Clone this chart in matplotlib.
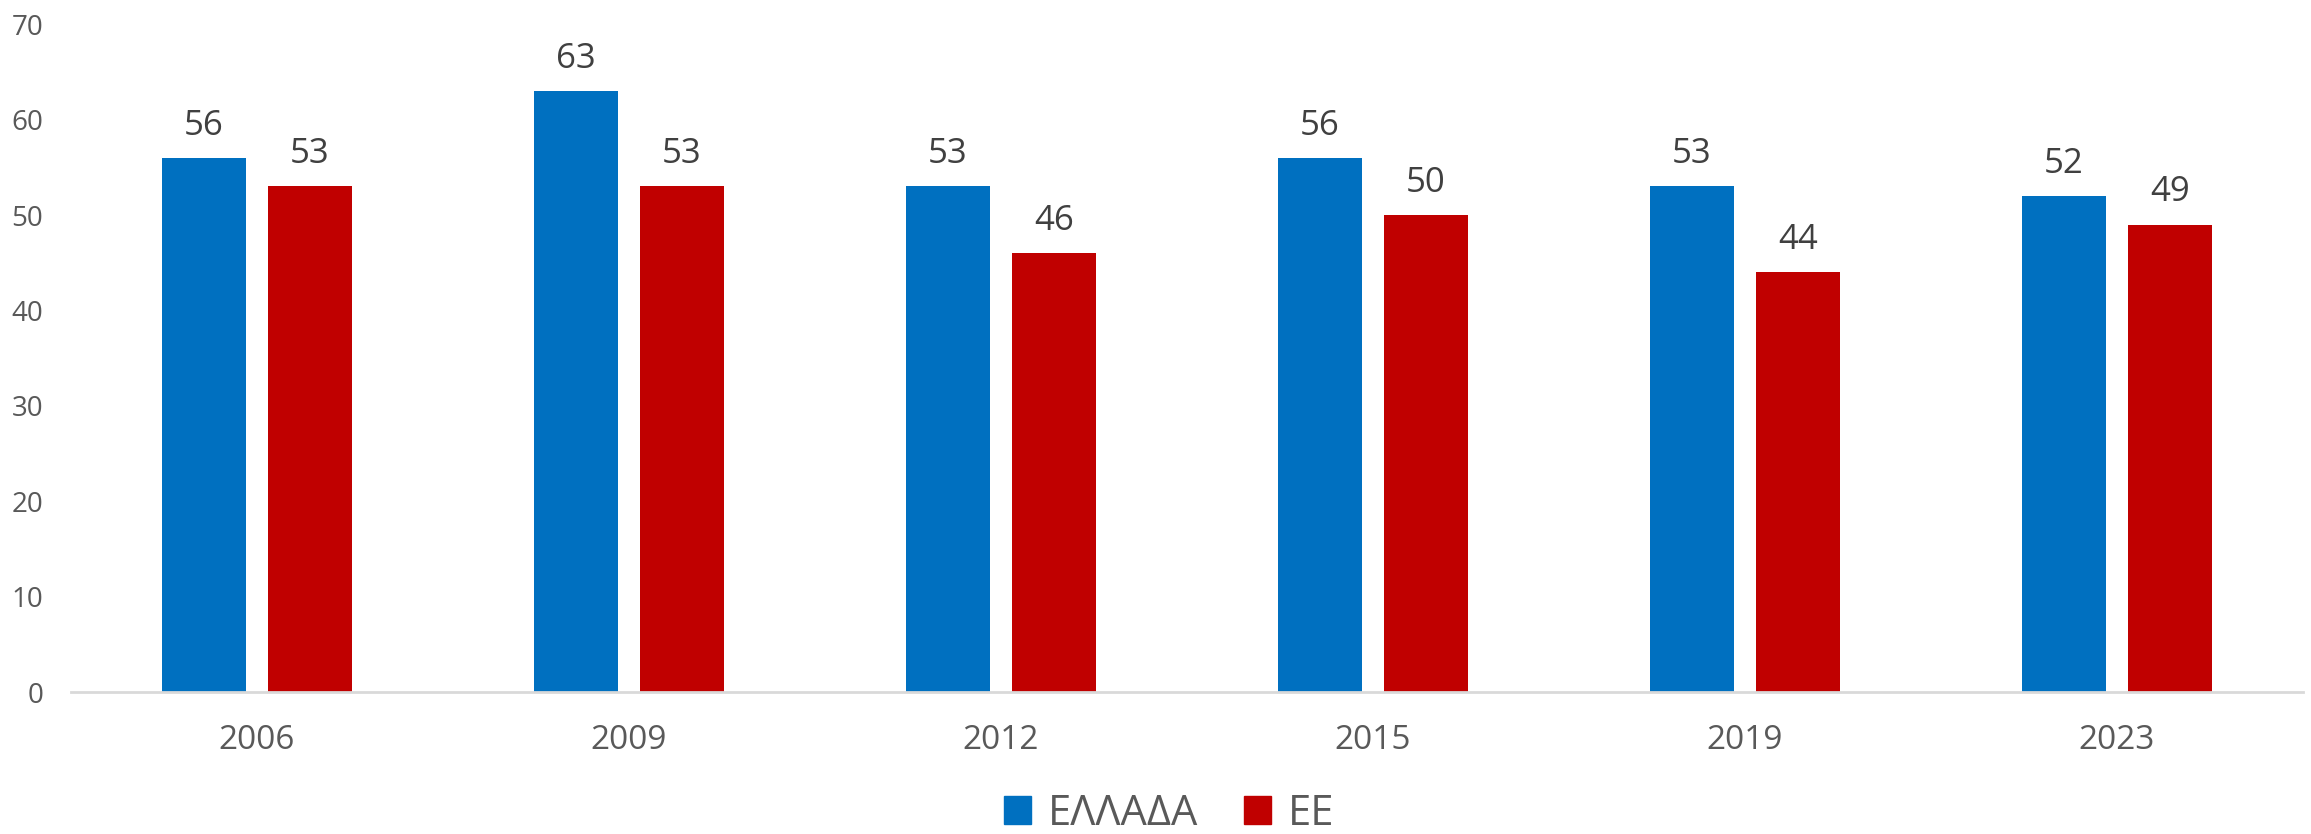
import numpy as np
import matplotlib.pyplot as plt
from matplotlib.patches import Patch

plt.rcParams['font.family'] = ['Open Sans', 'DejaVu Sans']

years = ['2006', '2009', '2012', '2015', '2019', '2023']
greece = [56, 63, 53, 56, 53, 52]
eu = [53, 53, 46, 50, 44, 49]
series_names = ['ΕΛΛΑΔΑ', 'ΕΕ']

blue = '#0070C0'
red = '#C00000'
grey = '#595959'

fig = plt.figure(figsize=(23.11, 8.34), dpi=100)
ax = fig.add_axes([0.0307, 0.170, 0.9658, 0.801])

x = np.arange(len(years))
w = 0.226
off = 0.1425
b1 = ax.bar(x - off, greece, w, color=blue)
b2 = ax.bar(x + off, eu, w, color=red)

# data labels above each bar
for bars, vals in ((b1, greece), (b2, eu)):
    for rect, v in zip(bars, vals):
        ax.annotate(str(v), (rect.get_x() + rect.get_width() / 2, v),
                    xytext=(0, 11), textcoords='offset points',
                    ha='center', va='bottom', fontsize=25, color='#404040')

ax.set_xlim(-0.5, len(years) - 0.5)
ax.set_ylim(0, 70)
ax.set_yticks(range(0, 71, 10))
ax.set_xticks(x)
ax.set_xticklabels(years)
ax.tick_params(axis='y', length=0, pad=20, labelsize=20, labelcolor=grey)
ax.tick_params(axis='x', length=0, pad=23, labelsize=24, labelcolor=grey)

for s in ['top', 'right', 'left']:
    ax.spines[s].set_visible(False)
ax.spines['bottom'].set_color('#D9D9D9')
ax.spines['bottom'].set_linewidth(2)

handles = [Patch(color=blue), Patch(color=red)]
fig.legend(handles, series_names, loc='center', bbox_to_anchor=(0.506, 0.024),
           ncol=2, frameon=False, fontsize=30, labelcolor=grey,
           handlelength=0.65, handleheight=0.65, handletextpad=0.4,
           columnspacing=1.1)

fig.savefig('out.png', dpi=100)
